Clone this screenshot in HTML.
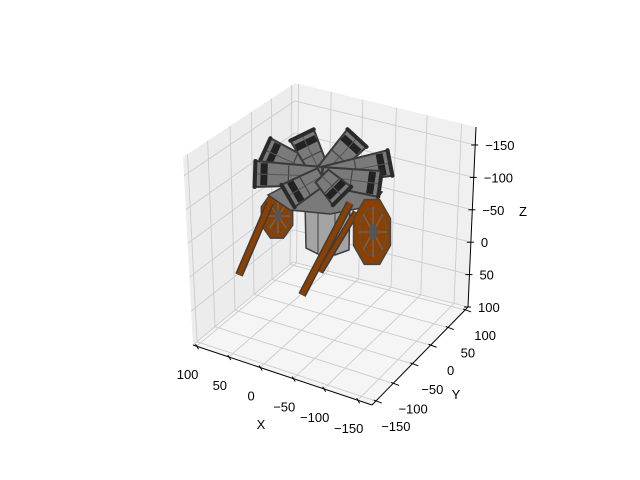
<!DOCTYPE html>
<html><head><meta charset="utf-8"><style>
body{margin:0;background:#fff}
svg{display:block;font-family:"Liberation Sans","DejaVu Sans",sans-serif}
</style></head><body>
<svg id="chart" width="640" height="480" viewBox="0 0 640 480" xmlns="http://www.w3.org/2000/svg">
<rect width="640" height="480" fill="#fff"/>
<g id="panes"></g>
<g id="grid"></g>
<g id="axes"></g>
<g id="model"></g>
</svg>
<script>
const xTicks=["100","50","0","\u221250","\u2212100","\u2212150"];
const xTickPos=[0.02,0.2,0.375,0.56,0.73,0.92];
const yTicks=["100","50","0","\u221250","\u2212100","\u2212150"];
const yTickPos=[0.97,0.79,0.61,0.42,0.22,0.04];
const zTicks=["\u2212150","\u2212100","\u221250","0","50","100"];
const zTickPos=[0.1,0.28,0.46,0.64,0.82,1.0];

const NS="http://www.w3.org/2000/svg";
const L=[193,345],F=[372,405],R=[468,307],B=[293,262];
const Lt=[183,157],Bt=[295,83],Rt=[476,127];
function lerp(a,b,t){return [a[0]+(b[0]-a[0])*t,a[1]+(b[1]-a[1])*t];}
function mk(tag,attrs,parent){const e=document.createElementNS(NS,tag);for(const k in attrs)e.setAttribute(k,attrs[k]);parent.appendChild(e);return e;}
function poly(pts){return pts.map(p=>p.join(",")).join(" ");}
const panes=document.getElementById("panes"),grid=document.getElementById("grid"),axes=document.getElementById("axes"),model=document.getElementById("model");

let p=mk("polygon",{points:poly([Lt,Bt,B,L]),fill:"#ececec"},panes);


p=mk("polygon",{points:poly([Bt,Rt,R,B]),fill:"#f0f0f0"},panes);


p=mk("polygon",{points:poly([L,F,R,B]),fill:"#f5f5f5"},panes);



function gl(a,b){const e=mk("line",{x1:a[0],y1:a[1],x2:b[0],y2:b[1],stroke:"#cccccc","stroke-width":0.9},grid);return e;}
xTickPos.forEach(t=>{const a=lerp(L,F,t),b=lerp(B,R,t),c=lerp(Bt,Rt,t);
 let e=gl(a,b);
 e=gl(b,c);});
yTickPos.forEach(t=>{const a=lerp(F,R,t),b=lerp(L,B,t),c=lerp(Lt,Bt,t);
 let e=gl(a,b);
 e=gl(b,c);});
zTickPos.forEach(t=>{const a=lerp(Lt,L,t),b=lerp(Bt,B,t),c=lerp(Rt,R,t);
 let e=gl(a,b);
 e=gl(b,c);});

function al(a,b,name){const e=mk("line",{x1:a[0],y1:a[1],x2:b[0],y2:b[1],stroke:"#000","stroke-width":1},axes);}
function txt(s,x,y,name,anchor){const e=mk("text",{x:x,y:y,"font-size":13,"text-anchor":anchor||"middle",fill:"#000"},axes);e.textContent=s;}
al(L,F,"x-axis-line");al(F,R,"y-axis-line");al(Rt,R,"z-axis-line");
xTicks.forEach((s,i)=>{const a=lerp(L,F,xTickPos[i]);al([a[0]-1,a[1]-2],[a[0]+2,a[1]+3],"x-tick");txt(s,a[0]-9,a[1]+33,"x-tick-label");});
yTicks.forEach((s,i)=>{const a=lerp(F,R,yTickPos[i]);al([a[0]-2,a[1]-1],[a[0]+6,a[1]+2],"y-tick");txt(s,a[0]+20,a[1]+30,"y-tick-label");});
zTicks.forEach((s,i)=>{const a=lerp(Rt,R,zTickPos[i]);al([a[0]-4,a[1]],[a[0]+3,a[1]],"z-tick");txt(s,a[0]+10,a[1]+5,"z-tick-label","start");});
txt("X",261,429,"x-axis-title");txt("Y",456,399,"y-axis-title");txt("Z",523,216,"z-axis-title");

function m(tag,attrs,name){const e=mk(tag,attrs,model);return e;}
function oct(cx,cy,rx,ry){const pts=[];for(let i=0;i<8;i++){const a=(i*45+22.5)*Math.PI/180;pts.push([cx+rx*Math.cos(a),cy+ry*Math.sin(a)]);}return poly(pts);}
function wheel(cx,cy,rx,ry,name){
 m("polygon",{points:oct(cx,cy,rx,ry),fill:"#8b4000",stroke:"#444","stroke-width":1.5},name);
 m("polygon",{points:oct(cx+1,cy,rx*0.7,ry*0.72),fill:"#8b4000",stroke:"#555","stroke-width":1},name+"-rim");
 for(let i=0;i<8;i++){const a=i*22.5*Math.PI/90;
  m("line",{x1:cx+1,y1:cy,x2:cx+1+rx*0.7*Math.cos(a),y2:cy+ry*0.72*Math.sin(a),stroke:"#666","stroke-width":1.5},name+"-spoke");}
 m("ellipse",{cx:cx+1,cy:cy,rx:rx*0.22,ry:ry*0.22,fill:"#555"},name+"-axle");
}
wheel(277,216,17,24,"left-wheel");
m("polygon",{points:"305,200 350,200 349,250 335,255 318,254 306,248",fill:"#a4a4a4",stroke:"#3c3c3c","stroke-width":1.5},"base-cylinder");
m("line",{x1:318,y1:205,x2:318,y2:253,stroke:"#444"},"cylinder-edge");
m("line",{x1:335,y1:205,x2:335,y2:254,stroke:"#444"},"cylinder-edge");
m("polygon",{points:"268,195 300,178 345,178 382,192 372,206 330,214 290,210",fill:"#7a7a7a",stroke:"#3c3c3c","stroke-width":1.5},"hub-disk");
m("line",{x1:270,y1:203,x2:239,y2:275,stroke:"#3c3c3c","stroke-width":8},"left-shaft-outline");
m("line",{x1:270,y1:203,x2:239,y2:275,stroke:"#8b4000","stroke-width":5},"left-shaft");
m("line",{x1:356,y1:212,x2:320,y2:272,stroke:"#3c3c3c","stroke-width":7},"right-shaft-b-outline");
m("line",{x1:356,y1:212,x2:320,y2:272,stroke:"#8b4000","stroke-width":4},"right-shaft-b");
m("line",{x1:350,y1:203,x2:302,y2:295,stroke:"#3c3c3c","stroke-width":8},"right-shaft-outline");
m("line",{x1:350,y1:203,x2:302,y2:295,stroke:"#8b4000","stroke-width":5},"right-shaft");
wheel(372,232,20,35,"right-wheel");
const cannonEnds=[[265,150],[302,135],[357,138],[255,174],[390,163],[380,184],[288,196],[342,196]];
const order=[0,1,2,4,3,5,6,7];
order.forEach(i=>{const e=cannonEnds[i];const c=[322,176];
 const dx=e[0]-c[0],dy=e[1]-c[1],len=Math.hypot(dx,dy),nx=-dy/len,ny=dx/len,ux=dx/len,uy=dy/len;
 const w1=13,w0=9;
 const pts=[[c[0]+nx*w0,c[1]+ny*w0],[e[0]+nx*w1,e[1]+ny*w1],[e[0]-nx*w1,e[1]-ny*w1],[c[0]-nx*w0,c[1]-ny*w0]];
 m("polygon",{points:poly(pts),fill:"#7a7a7a",stroke:"#3a3a3a","stroke-width":2},"cannon-barrel");
 const k=[e[0]-ux*9,e[1]-uy*9];
 m("line",{x1:k[0]+nx*w1*0.85,y1:k[1]+ny*w1*0.85,x2:k[0]-nx*w1*0.85,y2:k[1]-ny*w1*0.85,stroke:"#222","stroke-width":7},"cannon-band");
 const k2=[c[0]+ux*len*0.5,c[1]+uy*len*0.5];
 m("line",{x1:k2[0]+nx*11,y1:k2[1]+ny*11,x2:k2[0]-nx*11,y2:k2[1]-ny*11,stroke:"#444","stroke-width":1.2},"cannon-ring");
 m("line",{x1:c[0],y1:c[1],x2:e[0],y2:e[1],stroke:"#555","stroke-width":1},"cannon-seam");
 m("line",{x1:e[0]+nx*w1,y1:e[1]+ny*w1,x2:e[0]-nx*w1,y2:e[1]-ny*w1,stroke:"#2a2a2a","stroke-width":4,"stroke-linecap":"round"},"cannon-muzzle");});
</script>
</body></html>
